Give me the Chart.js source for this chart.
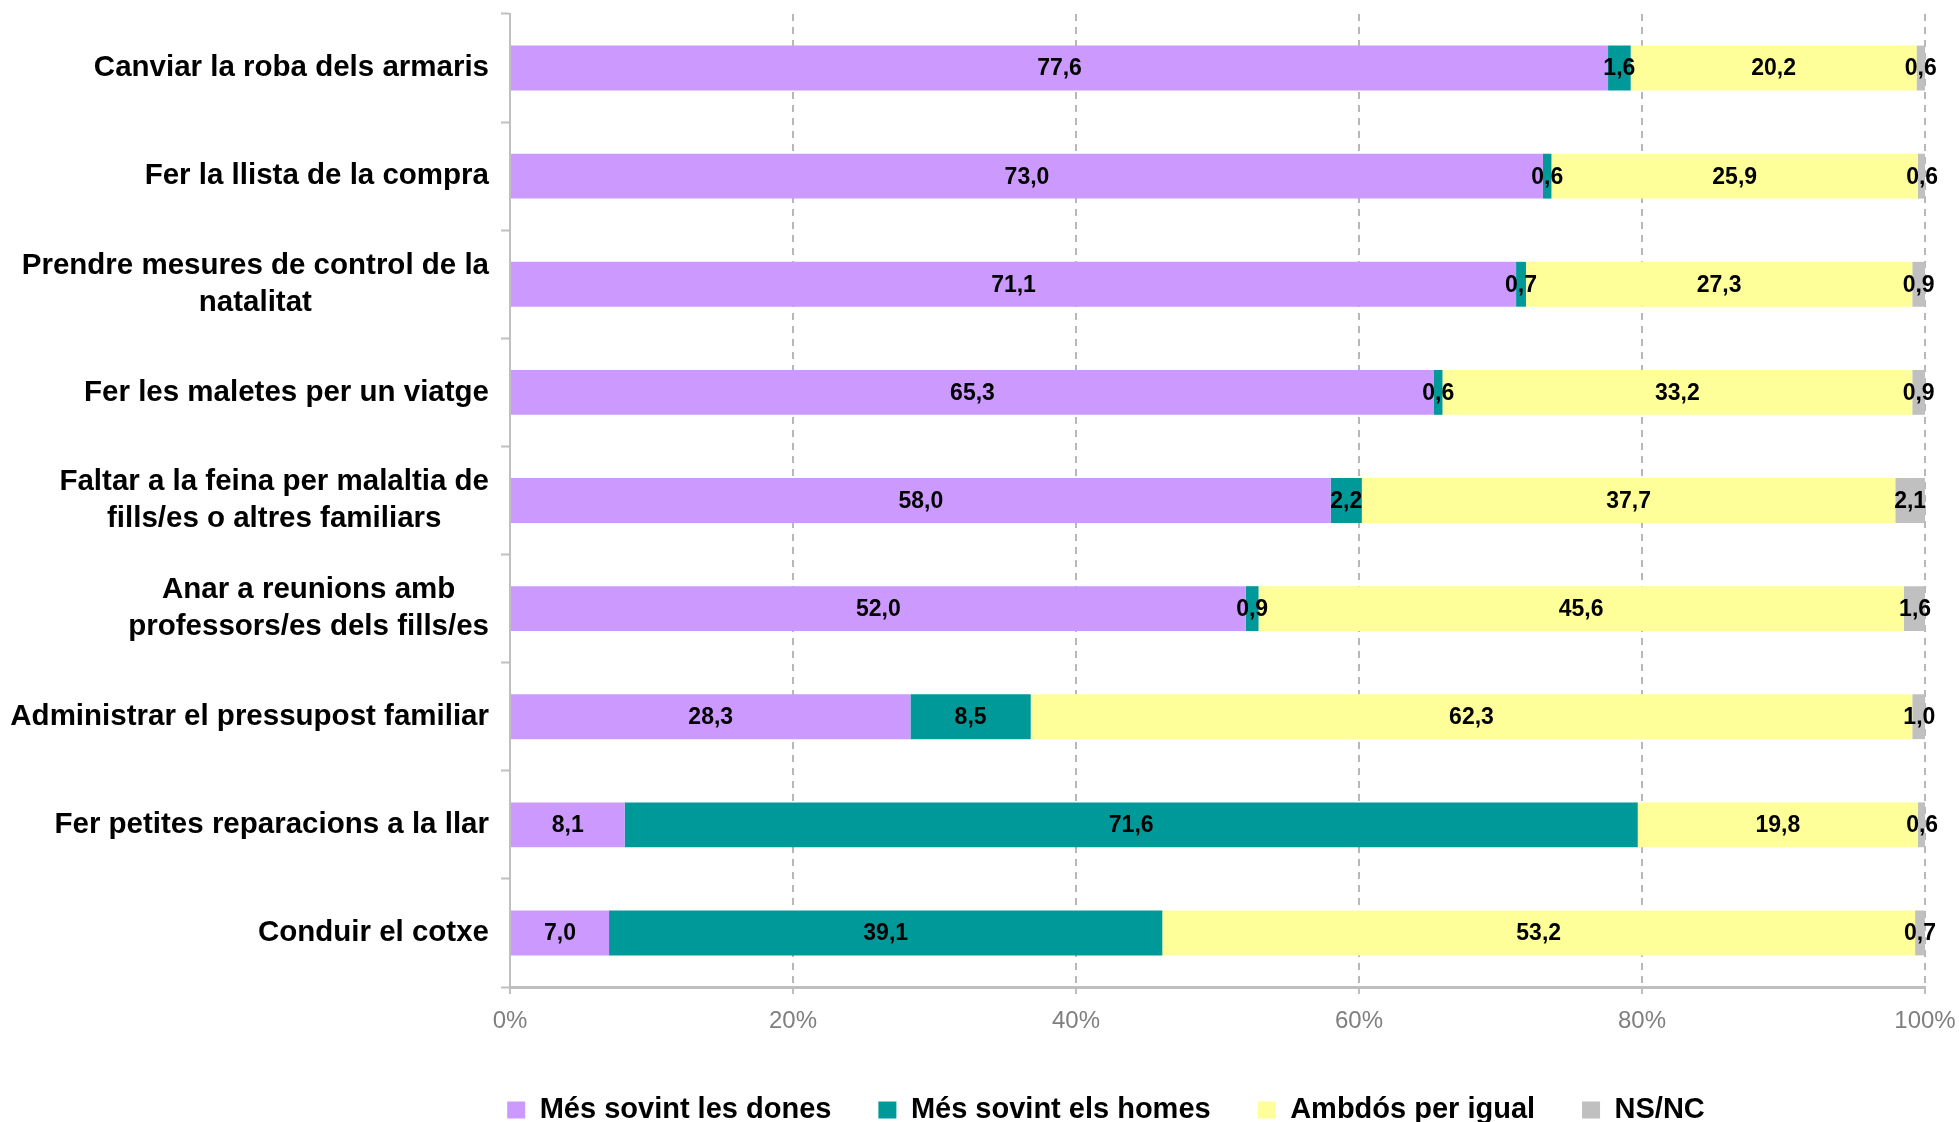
<!DOCTYPE html>
<html>
<head>
<meta charset="utf-8">
<script src="https://cdn.jsdelivr.net/npm/chart.js@4/dist/chart.umd.min.js"></script>
<style>
  html, body { margin: 0; padding: 0; background: #fff; }
  #wrap { width: 1959px; height: 1122px; position: relative; }
</style>
</head>
<body>
<div id="wrap"><canvas id="chart"></canvas></div>
<script>
const categories = [
  ['Canviar la roba dels armaris'],
  ['Fer la llista de la compra'],
  ['Prendre mesures de control de la', 'natalitat'],
  ['Fer les maletes per un viatge'],
  ['Faltar a la feina per malaltia de', 'fills/es o altres familiars'],
  ['Anar a reunions amb', 'professors/es dels fills/es'],
  ['Administrar el pressupost familiar'],
  ['Fer petites reparacions a la llar'],
  ['Conduir el cotxe'],
];

const seriesNames = ['Més sovint les dones', 'Més sovint els homes', 'Ambdós per igual', 'NS/NC'];
const dones = [77.6, 73.0, 71.1, 65.3, 58.0, 52.0, 28.3, 8.1, 7.0];
const homes = [1.6, 0.6, 0.7, 0.6, 2.2, 0.9, 8.5, 71.6, 39.1];
const ambdos = [20.2, 25.9, 27.3, 33.2, 37.7, 45.6, 62.3, 19.8, 53.2];
const nsnc = [0.6, 0.6, 0.9, 0.9, 2.1, 1.6, 1.0, 0.6, 0.7];
const xTicks = [0, 20, 40, 60, 80, 100];

const COLORS = ['#CC99FF', '#009999', '#FFFF99', '#C0C0C0'];
const FONT = "'Liberation Sans', Arial, sans-serif";
const AXIS_GRAY = '#bfbfbf';

const fmt = (v) => v.toFixed(1).replace('.', ',');

// category labels: block right-aligned to the axis, lines centred inside the block
const yLabelsPlugin = {
  id: 'yLabels',
  afterDraw(chart) {
    const scale = chart.scales.y;
    const ctx = chart.ctx;
    ctx.save();
    ctx.font = `bold 29.5px ${FONT}`;
    ctx.fillStyle = '#000';
    ctx.textAlign = 'center';
    ctx.textBaseline = 'middle';
    const right = scale.right - 21;
    const lineH = 37;
    categories.forEach((lines, i) => {
      const y = scale.getPixelForTick(i);
      const w = Math.max(...lines.map((l) => ctx.measureText(l).width));
      const cx = right - w / 2;
      const y0 = y - ((lines.length - 1) * lineH) / 2;
      lines.forEach((l, j) => ctx.fillText(l, cx, y0 + j * lineH));
    });
    ctx.restore();
  },
};

const valueLabelsPlugin = {
  id: 'valueLabels',
  afterDatasetsDraw(chart) {
    const ctx = chart.ctx;
    ctx.save();
    ctx.font = `bold 23px ${FONT}`;
    ctx.fillStyle = '#000';
    ctx.textAlign = 'center';
    ctx.textBaseline = 'middle';
    chart.data.datasets.forEach((ds, di) => {
      const meta = chart.getDatasetMeta(di);
      meta.data.forEach((bar, i) => {
        const { x, base, y } = bar.getProps(['x', 'base', 'y'], true);
        ctx.fillText(fmt(ds.data[i]), (x + base) / 2, y + 1);
      });
    });
    ctx.restore();
  },
};

const datasets = [dones, homes, ambdos, nsnc].map((data, i) => ({
  label: seriesNames[i],
  data,
  backgroundColor: COLORS[i],
  borderWidth: 0,
  categoryPercentage: 1,
  barPercentage: 0.415,
}));

new Chart(document.getElementById('chart'), {
  type: 'bar',
  data: { labels: categories.map((c) => c.join(' ')), datasets },
  plugins: [yLabelsPlugin, valueLabelsPlugin],
  options: {
    indexAxis: 'y',
    responsive: true,
    maintainAspectRatio: false,
    animation: false,
    layout: { padding: { left: 287, right: 34, top: 14, bottom: -12.5 } },
    plugins: {
      tooltip: { enabled: false },
      legend: {
        position: 'bottom',
        labels: {
          boxWidth: 18,
          boxHeight: 17,
          padding: 47,
          color: '#000',
          font: { family: FONT, size: 29, weight: 'bold' },
        },
      },
    },
    scales: {
      x: {
        stacked: true,
        min: 0,
        max: 100,
        afterBuildTicks: (scale) => { scale.ticks = xTicks.map((v) => ({ value: v })); },
        afterFit: (scale) => {
          scale.height = 61.5;
          scale.paddingRight = 20;
        },
        ticks: {
          padding: 13,
          color: '#7f7f7f',
          font: { family: FONT, size: 24 },
          callback: (v) => v + '%',
        },
        grid: {
          color: '#b8b8b8',
          lineWidth: 2,
          tickLength: 7,
          tickColor: AXIS_GRAY,
          tickWidth: 2,
        },
        border: { color: AXIS_GRAY, width: 3, dash: [7, 6] },
      },
      y: {
        stacked: true,
        afterFit: (scale) => { scale.width = 223; },
        ticks: { display: false },
        grid: {
          offset: true,
          drawOnChartArea: false,
          tickLength: 9,
          tickColor: AXIS_GRAY,
          tickWidth: 2,
        },
        border: { color: AXIS_GRAY, width: 2 },
      },
    },
  },
});
</script>
</body>
</html>
